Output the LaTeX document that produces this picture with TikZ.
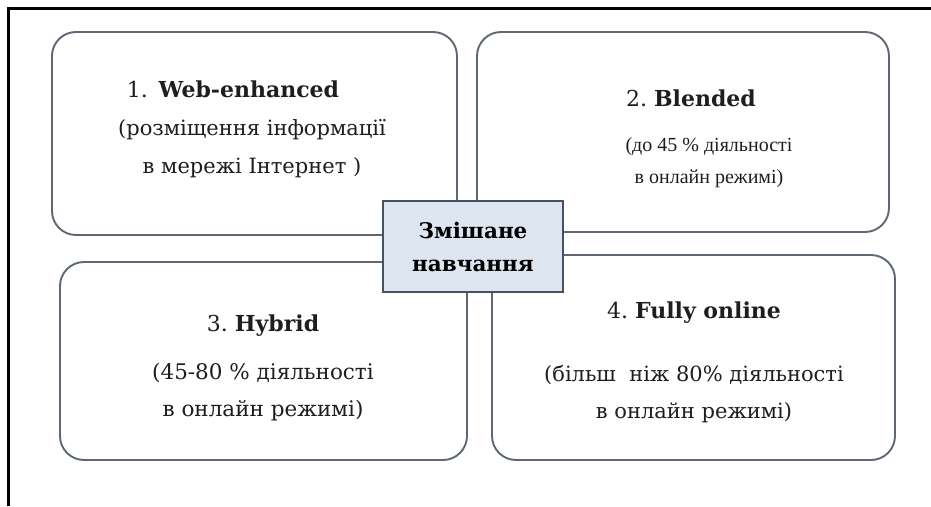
\documentclass[tikz,border=0pt]{standalone}
\usepackage{fontspec}
\setmainfont{DejaVu Serif}
\newfontfamily\timesfont{Liberation Serif}
\definecolor{cardline}{HTML}{5E6875}
\definecolor{hubfill}{HTML}{DCE5F0}
\definecolor{hubline}{HTML}{465261}
\definecolor{ink}{HTML}{1E1E1E}
\newcommand{\cardtitle}[2]{{\rmfamily\fontsize{22}{22}\selectfont #1\ \textbf{#2}}}
\begin{document}
\begin{tikzpicture}[x=1pt,y=-1pt,
  card/.style={draw=cardline, line width=1.9pt, rounded corners=24pt, fill=white},
  cardtext/.style={align=center, text=ink, font=\fontsize{21}{37}\selectfont},
  hub/.style={draw=hubline, line width=1.9pt, fill=hubfill, text=black, align=center,
    minimum width=180pt, minimum height=91pt, font=\fontsize{21.5}{33}\selectfont\bfseries}]
\useasboundingbox (0,0) rectangle (931,506);
\draw[line width=2.4pt] (8.5,506) -- (8.5,8.5) -- (931,8.5);
\node[card, minimum width=405pt, minimum height=203pt] (web) at (254.5,133.5) {};
\node[card, minimum width=412pt, minimum height=200pt] (blended) at (683,132) {};
\node[card, minimum width=407pt, minimum height=198pt] (hybrid) at (263.5,361) {};
\node[card, minimum width=403pt, minimum height=205pt] (online) at (693.5,357.5) {};
\node[cardtext, font=\fontsize{21}{38}\selectfont] (webtext) at (252,129)
  {\cardtitle{1.\,}{Web-enhanced}\hspace*{38pt}\\(розміщення інформації\\в мережі Інтернет )};
\node[cardtext, font=\timesfont\fontsize{20}{32}\selectfont] (blendedtext) at (709,139)
  {\cardtitle{2.}{Blended}\hspace*{36pt}\\[13pt](до 45 \% діяльності\\в онлайн режимі)};
\node[cardtext, font=\fontsize{21.5}{37}\selectfont] (hybridtext) at (263,368)
  {\cardtitle{3.}{Hybrid}\\[11pt](45-80 \% діяльності\\в онлайн режимі)};
\node[cardtext] (onlinetext) at (694,362.5)
  {\cardtitle{4.}{Fully online}\\[26pt](більш~~ніж 80\% діяльності\\в онлайн режимі)};
\node[hub] (hub) at (473,246.5) {Змішане\\навчання};
\end{tikzpicture}
\end{document}
